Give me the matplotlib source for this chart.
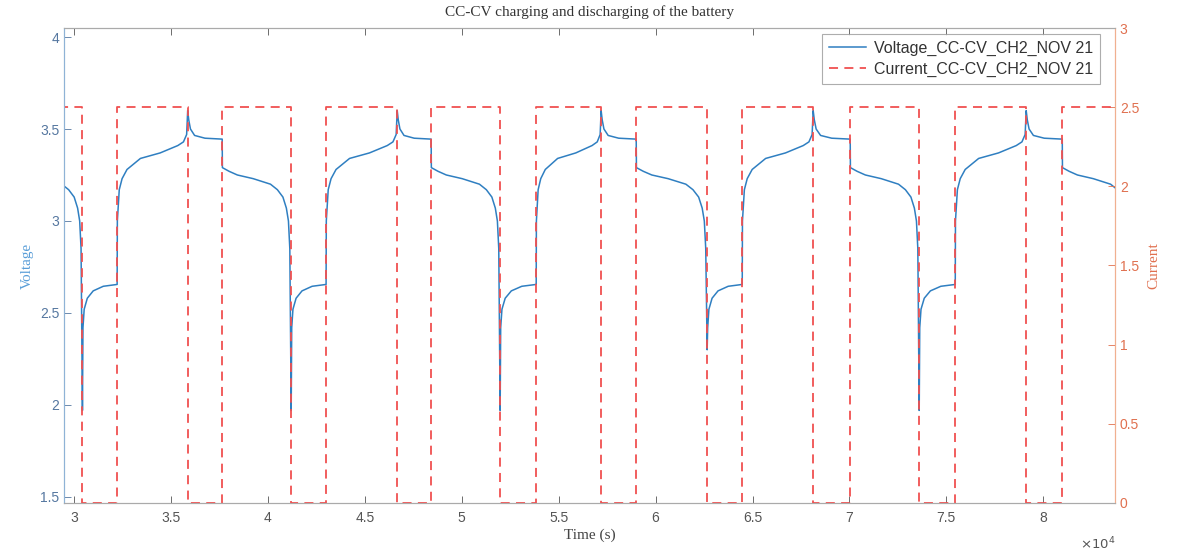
import matplotlib
matplotlib.use('Agg')
import matplotlib.pyplot as plt

# phase boundaries (seconds)
discharge_start = [26870, 37640, 48420, 59000, 70040, 80980]
discharge_end = [30430, 41200, 51980, 62660, 73600, 84540]
charge_start = [32220, 43000, 53840, 64470, 75460]
charge_end = [35860, 46670, 57190, 68130, 79120]
dip_min = [1.97, 1.97, 1.97, 2.30, 1.97]

current_level = 2.5

# voltage shape inside each phase: fraction of phase, voltage
dis_frac = [0.0, 0.003, 0.10, 0.22, 0.45, 0.70, 0.80, 0.88, 0.93, 0.96, 0.98]
dis_volt = [3.445, 3.29, 3.27, 3.25, 3.23, 3.20, 3.17, 3.13, 3.07, 3.00, 2.85]
rest1_frac = [0.015, 0.05, 0.14, 0.31, 0.60, 1.0]
rest1_volt = [2.42, 2.52, 2.58, 2.62, 2.645, 2.655]
chg_frac = [0.003, 0.03, 0.07, 0.14, 0.33, 0.61, 0.86, 0.94, 0.985, 1.0]
chg_volt = [3.00, 3.17, 3.23, 3.28, 3.34, 3.37, 3.41, 3.43, 3.47, 3.60]
rest2_frac = [0.03, 0.08, 0.20, 0.50, 1.0]
rest2_volt = [3.55, 3.50, 3.465, 3.45, 3.445]

blue = '#2f7fc1'
orange = '#e0704f'
red = '#f05050'


def phase(t0, t1, fracs, volts, tt, vv):
    for f, v in zip(fracs, volts):
        tt.append(t0 + f * (t1 - t0))
        vv.append(v)


t_v = []
v_v = []
for i in range(len(discharge_start)):
    phase(discharge_start[i], discharge_end[i], dis_frac, dis_volt, t_v, v_v)
    if i < len(charge_start):
        t_v.append(discharge_end[i])
        v_v.append(dip_min[i])
        phase(discharge_end[i], charge_start[i], rest1_frac, rest1_volt, t_v, v_v)
        phase(charge_start[i], charge_end[i], chg_frac, chg_volt, t_v, v_v)
        phase(charge_end[i], discharge_start[i + 1], rest2_frac, rest2_volt, t_v, v_v)

# current: 2.5 during charge / discharge, 0 at rest
t_c = []
c_c = []
for i in range(len(discharge_start)):
    t_c += [discharge_start[i], discharge_end[i]]
    c_c += [current_level, 0]
    if i < len(charge_start):
        t_c += [charge_start[i], charge_end[i]]
        c_c += [current_level, 0]

plt.rcParams['font.family'] = ['Liberation Sans', 'DejaVu Sans']
serif = ['Liberation Serif', 'DejaVu Serif']

fig = plt.figure(figsize=(11.77, 5.58), dpi=100)
ax = fig.add_axes([0.0544, 0.0986, 0.8929, 0.8512])
ax2 = ax.twinx()

l1, = ax.plot(t_v, v_v, color=blue, lw=1.1, label='Voltage_CC-CV_CH2_NOV 21')
l2, = ax2.step(t_c, c_c, where='post', color=red, lw=1.3, ls=(0, (5, 3.5)),
               label='Current_CC-CV_CH2_NOV 21')

ax.set_xlim(29480, 83700)
ax.set_ylim(1.467, 4.049)
ax2.set_ylim(0, 3)

xt = [30000, 35000, 40000, 45000, 50000, 55000, 60000, 65000, 70000, 75000, 80000]
ax.set_xticks(xt)
ax.set_xticklabels(['3', '3.5', '4', '4.5', '5', '5.5', '6', '6.5', '7', '7.5', '8'])
ax.set_yticks([1.5, 2, 2.5, 3, 3.5, 4])
ax.set_yticklabels(['1.5', '2', '2.5', '3', '3.5', '4'])
ax2.set_yticks([0, 0.5, 1, 1.5, 2, 2.5, 3])
ax2.set_yticklabels(['0', '0.5', '1', '1.5', '2', '2.5', '3'])

ax.tick_params(axis='x', direction='in', length=5, top=True, colors='#555555',
               labelsize=10, width=0.6, pad=6)
ax.tick_params(axis='y', direction='in', length=5, colors='#5577a0',
               labelsize=10, width=0.6)
ax2.tick_params(axis='y', direction='in', length=5, colors=orange,
                labelsize=10, width=0.6)

for a in (ax, ax2):
    a.spines['top'].set_color('#aaaaaa')
    a.spines['bottom'].set_color('#aaaaaa')
    a.spines['left'].set_color('#8fb3d6')
    a.spines['right'].set_color('#f0b090')
    for s in a.spines.values():
        s.set_linewidth(0.8)

ax.set_xlabel('Time (s)', family=serif, fontsize=11, color='#444444', labelpad=2)
ax.set_ylabel('Voltage', family=serif, fontsize=11, color='#5a9ed8', labelpad=4)
ax2.set_ylabel('Current', family=serif, fontsize=11, color=orange, labelpad=6, rotation=90)
ax.set_title('CC-CV charging and discharging of the battery', family=serif,
             fontsize=11, color='#333333', pad=9)

ax.text(1.0, -0.068, r'$\times 10^4$', transform=ax.transAxes, ha='right', va='top',
        fontsize=9.5, color='#555555')

leg = ax2.legend(handles=[l1, l2], loc='upper right', fontsize=11.5, frameon=True,
                 fancybox=False, edgecolor='#999999', handlelength=2.3,
                 borderpad=0.45, labelspacing=0.35, handletextpad=0.5,
                 bbox_to_anchor=(0.9935, 1.005))
leg.get_frame().set_linewidth(0.8)
for txt in leg.get_texts():
    txt.set_color('#333333')

fig.savefig('out.png', dpi=100)
